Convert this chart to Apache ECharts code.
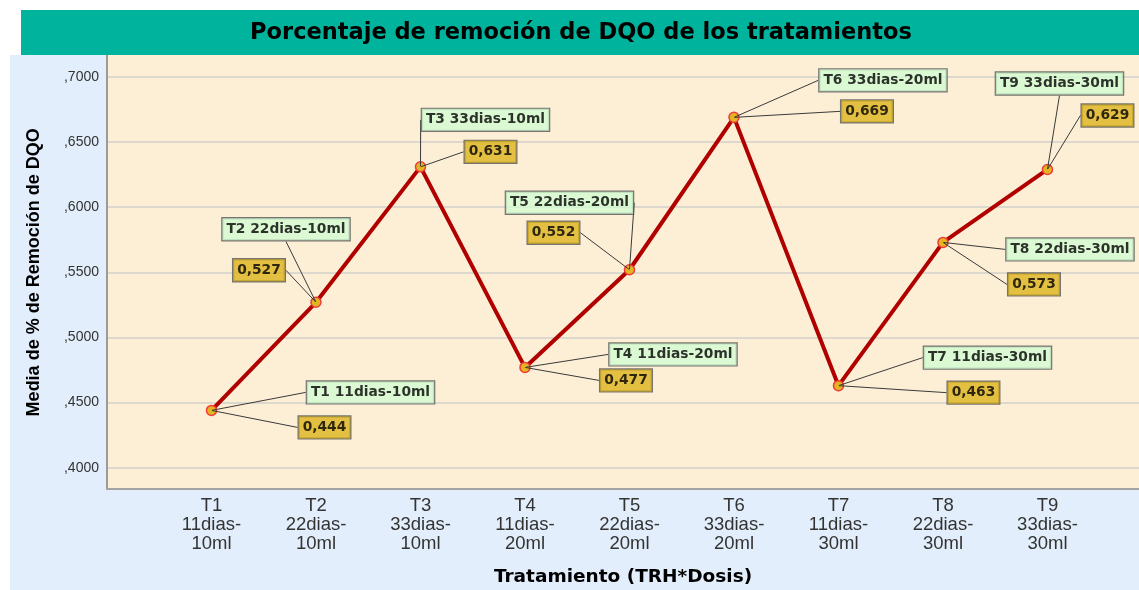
<!DOCTYPE html>
<html>
<head>
<meta charset="utf-8">
<script src="https://cdn.jsdelivr.net/npm/echarts@6/dist/echarts.min.js"></script>
<style>
html,body{margin:0;padding:0;background:#ffffff;}
#chart{width:1139px;height:590px;}
</style>
</head>
<body>
<div id="chart"></div>
<script>
// ---- data ----
const titleText = 'Porcentaje de remoción de DQO de los tratamientos';
const yAxisTitle = 'Media de % de Remoción de DQO';
const xAxisTitle = 'Tratamiento (TRH*Dosis)';
const categories = [
  'T1 11dias-10ml', 'T2 22dias-10ml', 'T3 33dias-10ml',
  'T4 11dias-20ml', 'T5 22dias-20ml', 'T6 33dias-20ml',
  'T7 11dias-30ml', 'T8 22dias-30ml', 'T9 33dias-30ml'
];
const meanRemoval = [0.444, 0.527, 0.631, 0.477, 0.552, 0.669, 0.463, 0.573, 0.629];

// ---- label layout (pixel offsets of callout boxes from their point) ----
const nameLabelOffsets = [
  [159, -18], [-30, -73], [65, -47], [148, -13], [-60, -67],
  [149, -37], [149, -28], [127, 7], [12, -86]
];
const valueLabelOffsets = [
  [113, 17], [-57, -32], [70, -15], [101, 13], [-76, -37],
  [133, -6], [135, 7], [91, 42], [60, -54]
];

const points = meanRemoval.map((v, i) => [i + 1, v]);
const boldFont = '"DejaVu Sans", sans-serif';
const plainFont = '"Liberation Sans", Arial, sans-serif';

const chart = echarts.init(document.getElementById('chart'), null, {renderer: 'canvas'});

function calloutSeries(name, bg, formatter, offsets) {
  return {
    name: name,
    type: 'scatter',
    data: points,
    symbolSize: 1,
    itemStyle: {color: 'rgba(0,0,0,0)'},
    silent: true,
    z: 5,
    label: {
      show: true,
      position: 'inside',
      formatter: formatter,
      fontFamily: boldFont,
      fontWeight: 'bold',
      fontSize: 13.8,
      lineHeight: 16,
      color: '#000',
      backgroundColor: bg,
      borderColor: '#555',
      borderWidth: 1.2,
      padding: [3, 4, 3, 4]
    },
    labelLine: {
      show: true,
      lineStyle: {color: '#3a3a3a', width: 1}
    },
    labelLayout: function (p) {
      const o = offsets[p.dataIndex];
      return {dx: o[0], dy: o[1]};
    }
  };
}

const option = {
  backgroundColor: '#ffffff',
  animation: false,
  title: {
    text: titleText,
    left: 581,
    top: 22,
    padding: 0,
    textAlign: 'center',
    textStyle: {
      fontFamily: boldFont,
      fontWeight: 'bold',
      fontSize: 22.5,
      color: '#000'
    }
  },
  graphic: [
    {type: 'rect', z: -30, shape: {x: 21, y: 10, width: 1118, height: 45}, style: {fill: '#00b39c'}},
    {type: 'rect', z: -30, shape: {x: 10, y: 55, width: 1129, height: 535}, style: {fill: '#e2eefb'}},
    {type: 'rect', z: -20, shape: {x: 107, y: 55, width: 1032, height: 434}, style: {fill: '#fdefd6'}},
    {type: 'line', z: 20, shape: {x1: 107, y1: 55, x2: 107, y2: 490}, style: {stroke: '#9b9b9b', lineWidth: 2}},
    {type: 'line', z: 20, shape: {x1: 106, y1: 489, x2: 1139, y2: 489}, style: {stroke: '#a3a3a3', lineWidth: 2}}
  ],
  grid: {left: 107, right: 0, top: 77, bottom: 122.3, containLabel: false, outerBoundsMode: 'none'},
  xAxis: {
    type: 'value',
    min: 0,
    max: 9.876,
    interval: 1,
    name: xAxisTitle,
    nameLocation: 'middle',
    nameGap: 100,
    nameTextStyle: {fontFamily: boldFont, fontWeight: 'bold', fontSize: 18.5, color: '#000'},
    axisLine: {show: false},
    axisTick: {show: false},
    splitLine: {show: false},
    axisLabel: {
      margin: 29,
      fontFamily: plainFont,
      fontSize: 18.5,
      lineHeight: 19,
      color: '#333',
      formatter: function (v) {
        if (Math.abs(v - Math.round(v)) > 1e-6) return '';
        const i = Math.round(v) - 1;
        if (i < 0 || i >= categories.length) return '';
        return categories[i].replace(' ', '\n').replace('-', '-\n');
      }
    }
  },
  yAxis: {
    type: 'value',
    min: 0.4,
    max: 0.7,
    interval: 0.05,
    name: yAxisTitle,
    nameLocation: 'middle',
    nameGap: 64,
    nameTextStyle: {fontFamily: plainFont, fontWeight: 'bold', fontSize: 18, color: '#000'},
    axisLine: {show: false},
    axisTick: {show: false},
    splitLine: {lineStyle: {color: '#d2d0cb', width: 1.5}},
    axisLabel: {
      margin: 8,
      fontFamily: plainFont,
      fontSize: 14,
      color: '#333',
      formatter: function (v) { return ',' + v.toFixed(4).split('.')[1]; }
    }
  },
  series: [
    {
      name: 'Media',
      type: 'line',
      data: points,
      z: 3,
      symbol: 'circle',
      symbolSize: 10,
      lineStyle: {color: '#b00000', width: 4},
      itemStyle: {color: '#e5b521', borderColor: '#ee3b3b', borderWidth: 1.5},
      label: {show: false}
    },
    calloutSeries('names', '#d2fbd2', function (p) { return categories[p.dataIndex]; }, nameLabelOffsets),
    calloutSeries('values', '#dcb31d', function (p) { return meanRemoval[p.dataIndex].toFixed(3).replace('.', ','); }, valueLabelOffsets)
  ]
};
chart.setOption(option);
</script>
</body>
</html>
